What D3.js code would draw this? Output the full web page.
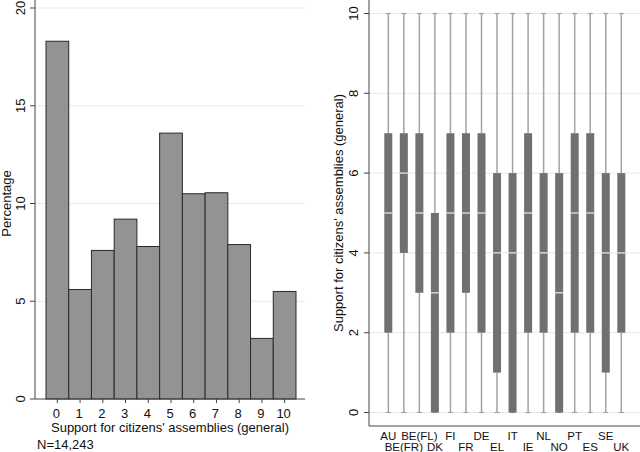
<!DOCTYPE html>
<html>
<head>
<meta charset="utf-8">
<script src="https://cdn.jsdelivr.net/npm/d3@7"></script>
<style>
  body { margin: 0; background: #fff; }
  svg text { font-family: "Liberation Sans", Arial, sans-serif; fill: #111; }
</style>
</head>
<body>
<div id="chart"></div>
<script>
// Histogram data (percentages per score)
const scores = [0, 1, 2, 3, 4, 5, 6, 7, 8, 9, 10];
const percentages = [18.3, 5.6, 7.6, 9.2, 7.8, 13.6, 10.5, 10.55, 7.9, 3.1, 5.5];
const histTicks = [0, 5, 10, 15, 20];

// Box plot data per country
const countries = ["AU", "BE(FR)", "BE(FL)", "DK", "FI", "FR", "DE", "EL", "IT", "IE", "NL", "NO", "PT", "ES", "SE", "UK"];
const q1 = [2, 4, 3, 0, 2, 3, 2, 1, 0, 2, 2, 0, 2, 2, 1, 2];
const medians = [5, 6, 5, 3, 5, 5, 5, 4, 4, 5, 4, 3, 5, 5, 4, 4];
const q3 = [7, 7, 7, 5, 7, 7, 7, 6, 6, 7, 6, 6, 7, 7, 6, 6];
const whiskerLow = [0, 0, 0, 0, 0, 0, 0, 0, 0, 0, 0, 0, 0, 0, 0, 0];
const whiskerHigh = [10, 10, 10, 10, 10, 10, 10, 10, 10, 10, 10, 10, 10, 10, 10, 10];
const boxTicks = [0, 2, 4, 6, 8, 10];

const width = 640;
const height = 452;

const svg = d3.select("#chart")
  .append("svg")
  .attr("width", width)
  .attr("height", height);

// ---------- Left panel: histogram ----------
const left = svg.append("g");

const x1 = d3.scaleLinear().domain([-0.5, 10.5]).range([46, 296]);
const y1 = d3.scaleLinear().domain([0, 20]).range([399, 8]);

// gridlines
left.selectAll("line.grid")
  .data(histTicks.slice(1))
  .join("line")
  .attr("x1", 35).attr("x2", 305)
  .attr("y1", d => y1(d)).attr("y2", d => y1(d))
  .attr("stroke", "#e8e8e8").attr("stroke-width", 1);

// bars
left.selectAll("rect.bar")
  .data(scores)
  .join("rect")
  .attr("x", d => x1(d - 0.5))
  .attr("width", x1(1) - x1(0))
  .attr("y", (d, i) => y1(percentages[i]))
  .attr("height", (d, i) => y1(0) - y1(percentages[i]))
  .attr("fill", "#939393")
  .attr("stroke", "#2a2a2a")
  .attr("stroke-width", 1);

// y axis
left.append("line")
  .attr("x1", 35).attr("x2", 35).attr("y1", 0).attr("y2", 399)
  .attr("stroke", "#444");
left.selectAll("line.ytick")
  .data(histTicks)
  .join("line")
  .attr("x1", 30).attr("x2", 35)
  .attr("y1", d => y1(d)).attr("y2", d => y1(d))
  .attr("stroke", "#444");
left.selectAll("text.ylab")
  .data(histTicks)
  .join("text")
  .attr("transform", d => `translate(25,${y1(d)}) rotate(-90)`)
  .attr("text-anchor", "middle")
  .attr("font-size", 13)
  .text(d => d);
left.append("text")
  .attr("transform", `translate(11,${(y1(0) + y1(20)) / 2}) rotate(-90)`)
  .attr("text-anchor", "middle")
  .attr("font-size", 13)
  .text("Percentage");

// x axis
left.append("line")
  .attr("x1", 35).attr("x2", 305).attr("y1", 399).attr("y2", 399)
  .attr("stroke", "#444");
left.selectAll("line.xtick")
  .data(scores)
  .join("line")
  .attr("x1", d => x1(d)).attr("x2", d => x1(d))
  .attr("y1", 399).attr("y2", 403)
  .attr("stroke", "#444");
left.selectAll("text.xlab")
  .data(scores)
  .join("text")
  .attr("x", d => x1(d) - 1)
  .attr("y", 418)
  .attr("text-anchor", "middle")
  .attr("font-size", 13)
  .text(d => d);
left.append("text")
  .attr("x", 170).attr("y", 432)
  .attr("text-anchor", "middle")
  .attr("font-size", 13)
  .text("Support for citizens' assemblies (general)");
left.append("text")
  .attr("x", 37).attr("y", 449)
  .attr("font-size", 13)
  .text("N=14,243");

// ---------- Right panel: box plots ----------
const right = svg.append("g");

const x2 = d3.scalePoint().domain(countries).range([388.3, 621.3]);
const y2 = d3.scaleLinear().domain([0, 10]).range([412.5, 13.5]);
const boxW = 8;

right.selectAll("line.grid")
  .data(boxTicks)
  .join("line")
  .attr("x1", 369).attr("x2", 640)
  .attr("y1", d => y2(d)).attr("y2", d => y2(d))
  .attr("stroke", "#e8e8e8");

const boxes = right.selectAll("g.box")
  .data(countries)
  .join("g")
  .attr("transform", d => `translate(${x2(d)},0)`);

// whiskers
boxes.append("line")
  .attr("y1", (d, i) => y2(whiskerHigh[i])).attr("y2", (d, i) => y2(q3[i]))
  .attr("stroke", "#a3a3a3").attr("stroke-width", 1.5);
boxes.append("line")
  .attr("y1", (d, i) => y2(q1[i])).attr("y2", (d, i) => y2(whiskerLow[i]))
  .attr("stroke", "#a3a3a3").attr("stroke-width", 1.5);
// caps
boxes.append("line")
  .attr("x1", -2.5).attr("x2", 2.5)
  .attr("y1", (d, i) => y2(whiskerHigh[i])).attr("y2", (d, i) => y2(whiskerHigh[i]))
  .attr("stroke", "#a3a3a3").attr("stroke-width", 1.2);
boxes.append("line")
  .attr("x1", -2.5).attr("x2", 2.5)
  .attr("y1", (d, i) => y2(whiskerLow[i])).attr("y2", (d, i) => y2(whiskerLow[i]))
  .attr("stroke", "#a3a3a3").attr("stroke-width", 1.2);
// box
boxes.append("rect")
  .attr("x", -boxW / 2).attr("width", boxW)
  .attr("y", (d, i) => y2(q3[i]))
  .attr("height", (d, i) => y2(q1[i]) - y2(q3[i]))
  .attr("fill", "#707072");
// median
boxes.append("line")
  .attr("x1", -boxW / 2).attr("x2", boxW / 2)
  .attr("y1", (d, i) => y2(medians[i])).attr("y2", (d, i) => y2(medians[i]))
  .attr("stroke", "#ececec").attr("stroke-width", 1.2);

// y axis
right.append("line")
  .attr("x1", 369).attr("x2", 369).attr("y1", 0).attr("y2", 426)
  .attr("stroke", "#444");
right.selectAll("line.ytick")
  .data(boxTicks)
  .join("line")
  .attr("x1", 364).attr("x2", 369)
  .attr("y1", d => y2(d)).attr("y2", d => y2(d))
  .attr("stroke", "#444");
right.selectAll("text.ylab")
  .data(boxTicks)
  .join("text")
  .attr("transform", d => `translate(358,${y2(d)}) rotate(-90)`)
  .attr("text-anchor", "middle")
  .attr("font-size", 13)
  .text(d => d);
right.append("text")
  .attr("transform", `translate(343,${(y2(0) + y2(10)) / 2}) rotate(-90)`)
  .attr("text-anchor", "middle")
  .attr("font-size", 13)
  .text("Support for citizens' assemblies (general)");

// x axis
right.append("line")
  .attr("x1", 369).attr("x2", 640).attr("y1", 426).attr("y2", 426)
  .attr("stroke", "#444");
right.selectAll("text.xlab")
  .data(countries)
  .join("text")
  .attr("x", d => x2(d))
  .attr("y", (d, i) => i % 2 === 0 ? 440 : 450.5)
  .attr("text-anchor", "middle")
  .attr("font-size", 11.5)
  .text(d => d);
</script>
</body>
</html>
